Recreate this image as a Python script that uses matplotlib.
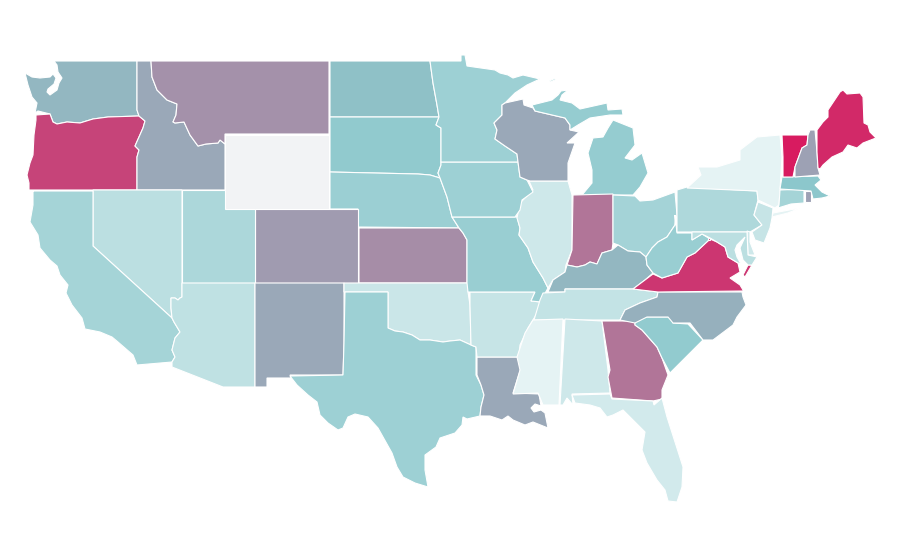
"""
Choropleth of the lower 48 states, outlines traced on a 900x560 canvas.
"""
import matplotlib.pyplot as plt
from matplotlib.colors import LinearSegmentedColormap, Normalize

states = ["WA", "OR", "ID", "MT", "WY", "ND", "SD", "NE", "CO", "KS", "UT", "NV", "CA", "AZ", "NM", "OK", "TX",
          "LA", "AR", "MO", "IL", "IA", "MN", "WI", "MI", "IN", "OH", "KY", "TN", "MS", "AL", "GA", "SC", "FL",
          "NC", "VA", "WV", "PA", "NY", "NJ", "DE", "MD", "DC", "CT", "RI", "MA", "VT", "NH", "ME"]
values = [55, 88, 59, 66, 0, 52, 48, 43, 63, 67, 35, 28, 38, 26, 59, 21, 42,
          59, 23, 44, 19, 42, 42, 59, 46, 74, 39, 55, 24, 8, 19, 74, 47, 17,
          57, 92, 44, 34, 8, 23, 19, 28, 92, 38, 61, 50, 100, 61, 96]

# outline rings per state, canvas pixels
outlines = {
    "WA": [[(54, 61), (137, 61), (137, 110), (139, 116), (108, 117), (93, 119), (80, 123), (67, 122), (57, 124),
            (53, 122), (50, 114), (38, 111), (35, 113), (37, 103), (32, 97), (28, 85), (25, 73), (32, 77), (40, 78),
            (50, 77), (53, 74), (56, 78), (54, 84), (48, 89), (47, 92), (50, 95), (57, 90), (59, 83), (62, 78),
            (58, 72), (57, 65)]],
    "OR": [[(36, 115), (50, 114), (53, 122), (57, 124), (67, 122), (80, 123), (93, 119), (108, 117), (139, 116),
            (145, 121), (143, 128), (139, 137), (135, 146), (139, 150), (137, 157), (137, 190), (29, 190), (29, 183),
            (27, 175), (30, 163), (33, 155), (34, 135), (36, 120)]],
    "ID": [[(137, 61), (151, 61), (152, 77), (157, 90), (167, 100), (177, 104), (176, 115), (173, 122), (175, 123),
            (184, 122), (190, 135), (198, 146), (206, 144), (218, 143), (220, 140), (225, 144), (225, 190), (137, 190),
            (137, 157), (139, 150), (135, 146), (139, 137), (143, 128), (145, 121), (139, 116), (137, 110)]],
    "MT": [[(151, 61), (329, 61), (329, 134), (225, 134), (225, 144), (220, 140), (218, 143), (206, 144), (198, 146),
            (190, 135), (184, 122), (175, 123), (173, 122), (176, 115), (177, 104), (167, 100), (157, 90), (152, 77)]],
    "WY": [[(225, 135), (329, 135), (329, 209), (225, 209)]],
    "ND": [[(330, 61), (430, 61), (433, 83), (437, 105), (439, 117), (330, 117)]],
    "SD": [[(330, 117), (439, 117), (436, 125), (441, 128), (441, 165), (438, 173), (440, 178), (430, 175),
            (418, 174), (330, 172)]],
    "NE": [[(330, 172), (418, 174), (430, 175), (440, 178), (447, 197), (452, 217), (459, 228), (358, 227), (358, 209),
            (330, 209)]],
    "CO": [[(255, 209), (358, 209), (358, 283), (255, 283)]],
    "KS": [[(359, 228), (459, 228), (463, 233), (467, 240), (467, 283), (359, 283)]],
    "UT": [[(182, 190), (225, 190), (225, 209), (255, 209), (255, 283), (182, 283)]],
    "NV": [[(93, 190), (182, 190), (182, 297), (180, 298), (178, 300), (175, 298), (171, 298), (171, 308), (172, 318),
            (93, 246)]],
    "CA": [[(32, 191), (93, 191), (93, 246), (172, 318), (174, 322), (180, 332), (175, 338), (172, 350), (175, 357),
            (172, 362), (137, 365), (133, 355), (118, 342), (112, 337), (100, 332), (85, 329), (82, 318), (72, 305),
            (66, 293), (68, 285), (60, 275), (57, 266), (50, 260), (40, 248), (38, 235), (30, 222), (33, 205),
            (33, 191)]],
    "AZ": [[(182, 283), (255, 283), (255, 387), (223, 387), (172, 367), (172, 362), (175, 357), (172, 350), (175, 338),
            (180, 332), (174, 322), (172, 318), (171, 308), (171, 298), (175, 298), (178, 300), (180, 298),
            (182, 297)]],
    "NM": [[(255, 283), (344, 283), (344, 343), (343, 375), (290, 375), (291, 378), (267, 378), (267, 387),
            (255, 387)]],
    "OK": [[(344, 283), (468, 283), (468, 292), (470, 305), (471, 345), (460, 340), (450, 341), (443, 342), (430, 340),
            (420, 340), (412, 335), (403, 332), (395, 331), (388, 328), (388, 292), (344, 292)]],
    "TX": [[(345, 292), (388, 292), (388, 328), (395, 331), (403, 332), (412, 335), (420, 340), (430, 340), (443, 342),
            (450, 341), (460, 340), (471, 345), (476, 347), (476, 375), (481, 385), (484, 395), (481, 407), (480, 416),
            (467, 419), (463, 417), (462, 425), (455, 433), (440, 438), (436, 447), (425, 455), (425, 470), (428, 487),
            (415, 483), (403, 477), (397, 467), (392, 453), (378, 428), (368, 417), (355, 414), (348, 417), (343, 428),
            (338, 430), (328, 423), (320, 415), (317, 402), (308, 395), (297, 385), (290, 376), (343, 375),
            (344, 343)]],
    "LA": [[(477, 357), (520, 357), (521, 368), (513, 393), (539, 394), (541, 406), (535, 404), (531, 408), (534, 412),
            (541, 410), (545, 413), (548, 428), (533, 422), (525, 425), (513, 420), (508, 416), (502, 420), (490, 416),
            (480, 416), (481, 407), (484, 395), (481, 385), (477, 375)]],
    "AR": [[(470, 292), (535, 292), (531, 301), (541, 302), (536, 315), (528, 328), (520, 345), (519, 357), (477, 357),
            (476, 347), (471, 345), (470, 305)]],
    "MO": [[(452, 217), (517, 217), (520, 228), (519, 235), (528, 248), (533, 262), (543, 278), (548, 288), (543, 297),
            (541, 302), (531, 301), (535, 292), (468, 292), (467, 283), (467, 240), (463, 233), (459, 228)]],
    "IL": [[(529, 181), (568, 181), (572, 195), (572, 250), (566, 265), (565, 272), (553, 280), (548, 288), (543, 278),
            (533, 262), (528, 248), (519, 235), (520, 228), (517, 218), (520, 203), (533, 190)]],
    "IA": [[(441, 162), (518, 162), (520, 177), (527, 180), (533, 192), (522, 200), (520, 210), (515, 217), (452, 217),
            (447, 197), (440, 178), (438, 173), (441, 165)]],
    "MN": [[(430, 61), (461, 61), (461, 55), (465, 55), (467, 66), (495, 70), (500, 73), (508, 75), (513, 78),
            (523, 75), (540, 79), (527, 85), (515, 93), (505, 103), (502, 105), (502, 115), (494, 123), (497, 130),
            (495, 139), (505, 146), (517, 154), (518, 162), (441, 162), (441, 128), (436, 125), (439, 117), (437, 105),
            (433, 83)]],
    "WI": [[(502, 105), (505, 103), (523, 99), (524, 105), (533, 108), (535, 111), (565, 118), (570, 125), (570, 130),
            (579, 132), (567, 143), (575, 143), (568, 163), (568, 181), (530, 181), (527, 180), (520, 177), (518, 162),
            (517, 154), (505, 146), (495, 139), (497, 130), (494, 123), (502, 115)]],
    "MI": [[(532, 105), (552, 100), (558, 95), (561, 91), (568, 90), (562, 95), (560, 100), (572, 103), (580, 109),
            (607, 103), (608, 110), (622, 109), (623, 115), (610, 115), (590, 118), (578, 125), (570, 130), (570, 125),
            (565, 118), (535, 111)],
           [(549, 81), (556, 78), (555, 80), (550, 82)],
           [(613, 120), (633, 128), (635, 145), (625, 158), (632, 160), (642, 153), (648, 173), (640, 187), (633, 195),
            (613, 195), (573, 197), (582, 195), (592, 183), (592, 170), (588, 153), (593, 138), (603, 137),
            (608, 128)]],
    "IN": [[(573, 195), (613, 194), (613, 243), (612, 250), (602, 253), (597, 264), (590, 262), (585, 265), (577, 267),
            (567, 265), (572, 250)]],
    "OH": [[(613, 195), (635, 196), (640, 201), (653, 200), (675, 192), (677, 215), (675, 225), (667, 237), (658, 242),
            (652, 248), (646, 257), (640, 252), (628, 251), (618, 245), (613, 243)]],
    "KY": [[(612, 250), (618, 245), (628, 251), (640, 252), (646, 257), (647, 265), (653, 273), (645, 280), (633, 289),
            (565, 289), (565, 292), (548, 292), (553, 280), (565, 272), (567, 265), (577, 267), (585, 265), (590, 262),
            (597, 264), (602, 253)]],
    "TN": [[(543, 293), (565, 292), (565, 289), (633, 289), (658, 292), (657, 297), (640, 303), (625, 310), (620, 320),
            (534, 320), (540, 300)]],
    "MS": [[(533, 320), (563, 319), (559, 405), (543, 405), (538, 393), (513, 394), (520, 370), (517, 357),
            (525, 333)]],
    "AL": [[(565, 319), (602, 321), (608, 370), (610, 393), (572, 394), (573, 405), (567, 398), (563, 405),
            (560, 405)]],
    "GA": [[(602, 321), (635, 321), (635, 325), (642, 330), (657, 347), (662, 358), (668, 375), (662, 390), (662, 399),
            (653, 401), (612, 398), (608, 377), (610, 370)]],
    "SC": [[(635, 320), (643, 317), (670, 317), (673, 323), (688, 324), (703, 340), (693, 350), (685, 358), (670, 373),
            (662, 358), (657, 347), (642, 330), (635, 325)]],
    "FL": [[(572, 395), (610, 394), (612, 399), (653, 401), (654, 405), (662, 398), (667, 417), (675, 442), (683, 467),
            (682, 487), (677, 502), (668, 501), (665, 490), (657, 480), (647, 463), (642, 450), (645, 432), (635, 422),
            (623, 410), (613, 415), (607, 417), (600, 408), (590, 405), (575, 403)]],
    "NC": [[(658, 292), (742, 292), (743, 297), (746, 305), (737, 317), (733, 325), (713, 340), (703, 340), (690, 323),
            (673, 323), (668, 317), (647, 317), (635, 323), (620, 320), (625, 310), (640, 303), (657, 297)]],
    "VA": [[(633, 289), (645, 280), (653, 274), (662, 278), (678, 273), (687, 257), (695, 253), (710, 239), (717, 242),
            (725, 247), (728, 257), (738, 263), (740, 272), (730, 278), (740, 285), (743, 290), (743, 291),
            (658, 292)],
           [(748, 265), (752, 265), (745, 277), (743, 275)]],
    "WV": [[(675, 215), (677, 233), (692, 233), (692, 240), (702, 234), (710, 239), (695, 253), (687, 257), (678, 273),
            (662, 278), (653, 273), (647, 265), (646, 257), (652, 248), (658, 242), (667, 237), (675, 225)]],
    "PA": [[(677, 190), (687, 187), (757, 191), (758, 200), (754, 215), (762, 225), (750, 232), (677, 232)]],
    "NY": [[(687, 188), (701, 175), (698, 167), (717, 167), (740, 160), (740, 150), (757, 137), (780, 135), (782, 157),
            (780, 190), (779, 205), (775, 208), (758, 200), (757, 191)],
           [(773, 213), (800, 208), (788, 213), (772, 217)]],
    "NJ": [[(758, 202), (773, 208), (772, 218), (770, 228), (764, 243), (755, 240), (752, 232), (762, 225),
            (754, 215)]],
    "DE": [[(747, 231), (750, 232), (750, 242), (755, 255), (748, 255)]],
    "MD": [[(692, 232), (747, 232), (748, 255), (757, 257), (752, 265), (748, 265), (743, 260), (740, 248), (745, 237),
            (737, 245), (735, 250), (737, 257), (741, 264), (738, 263), (728, 257), (725, 247), (717, 242), (710, 238),
            (702, 234), (692, 240)]],
    "DC": [[(708, 238), (710, 238), (710, 240), (708, 240)]],
    "CT": [[(780, 190), (804, 189), (804, 203), (791, 204), (778, 208), (779, 205)]],
    "RI": [[(805, 191), (811, 191), (811, 202), (805, 202)]],
    "MA": [[(782, 177), (818, 176), (821, 180), (815, 185), (822, 192), (830, 196), (822, 198), (813, 199), (811, 191),
            (780, 189)]],
    "VT": [[(782, 135), (808, 135), (807, 145), (802, 148), (795, 167), (793, 177), (783, 177), (783, 157)]],
    "NH": [[(810, 130), (815, 130), (817, 152), (818, 168), (820, 175), (795, 177), (795, 167), (802, 148), (807, 145),
            (808, 135)]],
    "ME": [[(817, 130), (823, 122), (828, 117), (828, 110), (840, 92), (843, 90), (847, 94), (860, 93), (863, 97),
            (864, 123), (868, 125), (870, 132), (876, 138), (863, 143), (857, 148), (848, 145), (843, 152), (832, 157),
            (823, 165), (820, 169), (818, 168), (817, 152)]],
}

scale_stops = [(0.0, "#f2f3f5"), (0.08, "#e5f3f4"), (0.5, "#8cc8cc"), (1.0, "#d81b60")]
cmap = LinearSegmentedColormap.from_list("rate", scale_stops)
norm = Normalize(0, 100)

fig = plt.figure(figsize=(9, 5.6), dpi=100)
ax = fig.add_axes([0, 0, 1, 1])

for state, value in zip(states, values):
    for ring in outlines[state]:
        xs, ys = zip(*ring)
        ax.fill(xs, ys, facecolor=cmap(norm(value)), edgecolor="white", linewidth=0.8)

ax.set_xlim(0, 900)
ax.set_ylim(560, 0)
ax.axis("off")

fig.savefig("out.png", dpi=100, facecolor="white")
plt.close(fig)
